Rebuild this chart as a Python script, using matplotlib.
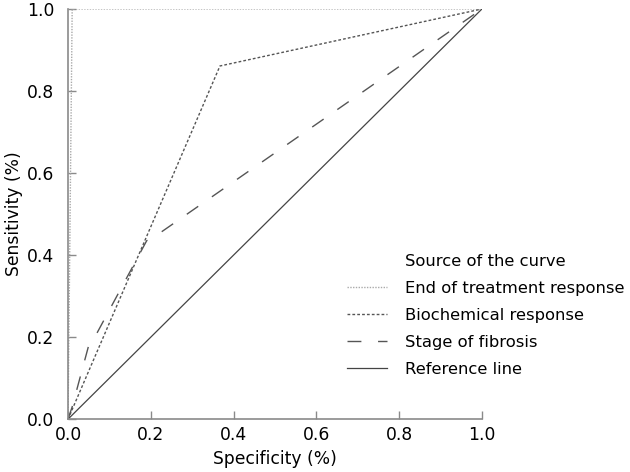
import matplotlib
import matplotlib.pyplot as plt
from matplotlib.lines import Line2D

matplotlib.use('Agg')

# ROC curves
eot_x = [0.0, 0.01, 1.0]
eot_y = [0.0, 1.0, 1.0]

bio_x = [0.0, 0.367, 1.0]
bio_y = [0.0, 0.861, 1.0]

fib_x = [0.0, 0.01, 0.05, 0.07, 0.19, 0.215, 1.0]
fib_y = [0.0, 0.03, 0.18, 0.21, 0.435, 0.449, 1.0]

ref_x = [0.0, 1.0]
ref_y = [0.0, 1.0]

TICKS = [0.0, 0.2, 0.4, 0.6, 0.8, 1.0]
TICK_LABELS = ["0.0", "0.2", "0.4", "0.6", "0.8", "1.0"]
LEGEND_TITLE = "Source of the curve"

AXIS_COLOR = "#8a8a8a"
LINE_COLOR = "#555555"
FS = 12.3
LEG_FS = 11.8

fig = plt.figure(figsize=(6.3, 4.72), dpi=100)
ax = fig.add_axes([0.108, 0.112, 0.657, 0.869])

ax.plot(eot_x, eot_y, color="#aaaaaa", linestyle=(0, (1, 1)), linewidth=1.0,
        label="End of treatment response")
ax.plot(bio_x, bio_y, color=LINE_COLOR, linestyle=(0, (2, 1.5)), linewidth=1.0,
        label="Biochemical response")
ax.plot(fib_x, fib_y, color=LINE_COLOR, linestyle=(0, (10, 12)), linewidth=1.0,
        label="Stage of fibrosis")
ax.plot(ref_x, ref_y, color="#444444", linestyle="-", linewidth=0.9,
        label="Reference line")

ax.set_xlim(0, 1)
ax.set_ylim(0, 1)
ax.set_xticks(TICKS)
ax.set_xticklabels(TICK_LABELS)
ax.set_yticks(TICKS)
ax.set_yticklabels(TICK_LABELS)

for side in ("top", "right"):
    ax.spines[side].set_visible(False)
for side in ("left", "bottom"):
    ax.spines[side].set_color(AXIS_COLOR)
    ax.spines[side].set_linewidth(1.2)

ax.tick_params(direction="in", length=6, width=1, color=AXIS_COLOR,
               labelsize=FS, labelcolor="black")
ax.tick_params(axis="x", pad=5)
ax.tick_params(axis="y", pad=10)

ax.set_xlabel("Specificity (%)", fontsize=FS, labelpad=4)
ax.set_ylabel("Sensitivity (%)", fontsize=FS, labelpad=3)

# title drawn as a first entry with an empty handle so it lines up with the labels
handles, labels = ax.get_legend_handles_labels()
blank = Line2D([], [], linestyle="none")
leg = ax.legend([blank] + handles, [LEGEND_TITLE] + labels, loc="upper left",
                bbox_to_anchor=(0.674, 0.403), frameon=False, fontsize=LEG_FS,
                handlelength=2.45, handletextpad=1.1, labelspacing=0.73,
                borderpad=0, borderaxespad=0)

fig.savefig("out.png", dpi=100, facecolor="white")
